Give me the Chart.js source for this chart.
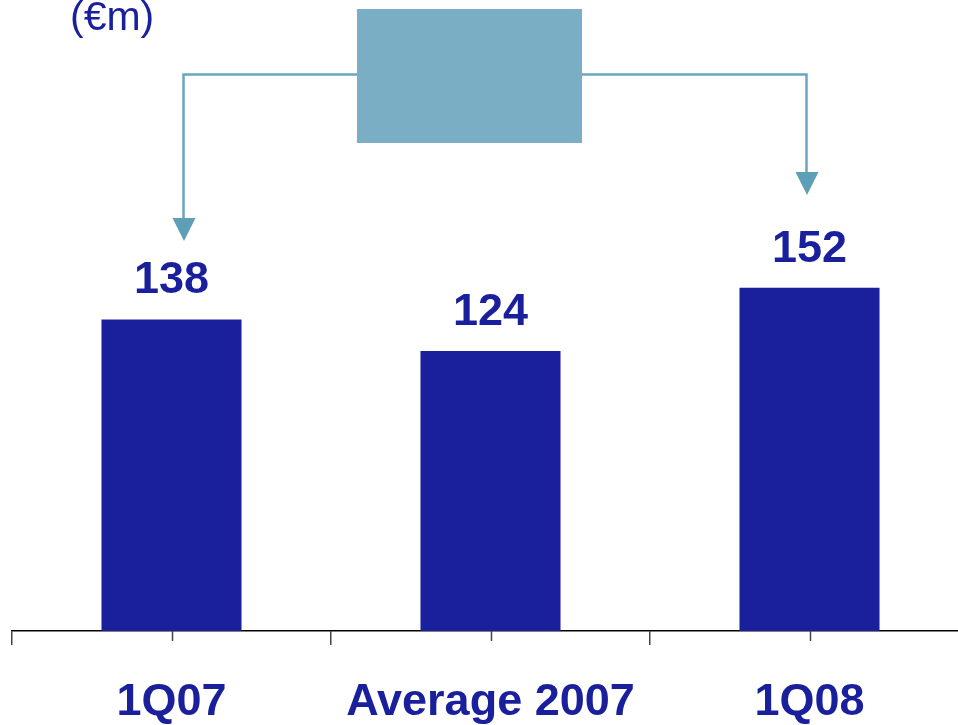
<!DOCTYPE html>
<html>
<head>
<meta charset="utf-8">
<script src="https://cdn.jsdelivr.net/npm/chart.js@4/dist/chart.umd.min.js"></script>
<style>
  html, body { margin: 0; padding: 0; background: #fff; overflow: hidden; }
  #wrap { width: 970px; height: 725px; }
</style>
</head>
<body>
<div id="wrap"><canvas id="chart" width="970" height="725"></canvas></div>
<script>
// data
const categories = ['1Q07', 'Average 2007', '1Q08'];
const values = [138, 124, 152];
const unitLabel = '(€m)';

const navy = '#1a1f9c';
const teal = '#7aaec4';
const tealLine = '#6aa7be';

// value labels above each bar
const valueLabels = {
    id: 'valueLabels',
    afterDatasetsDraw(chart) {
        const ctx = chart.ctx;
        const meta = chart.getDatasetMeta(0);
        ctx.save();
        ctx.fillStyle = navy;
        ctx.font = 'bold 45px "Liberation Sans", Arial, sans-serif';
        ctx.textAlign = 'center';
        ctx.textBaseline = 'alphabetic';
        meta.data.forEach((bar, i) => {
            ctx.fillText(String(values[i]), bar.x, bar.y - 26);
        });
        ctx.restore();
    }
};

// short ticks under each category centre
const centreTicks = {
    id: 'centreTicks',
    afterDraw(chart) {
        const ctx = chart.ctx;
        const xs = chart.scales.x;
        const y0 = chart.chartArea.bottom;
        ctx.save();
        ctx.strokeStyle = '#444';
        ctx.lineWidth = 1.5;
        categories.forEach((c, i) => {
            const x = Math.round(xs.getPixelForTick(i)) + 0.5;
            ctx.beginPath();
            ctx.moveTo(x, y0);
            ctx.lineTo(x, y0 + 10);
            ctx.stroke();
        });
        ctx.restore();
    }
};

// the unit text, the box and the two arrows at the top
const header = {
    id: 'header',
    afterDraw(chart) {
        const ctx = chart.ctx;
        ctx.save();
        ctx.fillStyle = navy;
        ctx.font = '41px "Liberation Sans", Arial, sans-serif';
        ctx.textAlign = 'left';
        ctx.textBaseline = 'alphabetic';
        ctx.fillText(unitLabel, 70, 30);

        ctx.fillStyle = teal;
        ctx.fillRect(357, 9, 225, 134);

        ctx.strokeStyle = tealLine;
        ctx.lineWidth = 2.5;
        ctx.beginPath();
        ctx.moveTo(357, 74.5);
        ctx.lineTo(183.5, 74.5);
        ctx.lineTo(183.5, 220);
        ctx.moveTo(582, 74.5);
        ctx.lineTo(806.5, 74.5);
        ctx.lineTo(806.5, 174);
        ctx.stroke();

        ctx.fillStyle = '#5e9fb7';
        const head = (x, yTop, yTip) => {
            ctx.beginPath();
            ctx.moveTo(x - 11.5, yTop);
            ctx.lineTo(x + 11.5, yTop);
            ctx.lineTo(x, yTip);
            ctx.closePath();
            ctx.fill();
        };
        head(184, 218, 241);
        head(807, 172, 195);
        ctx.restore();
    }
};

new Chart(document.getElementById('chart'), {
    type: 'bar',
    data: {
        labels: categories,
        datasets: [{
            data: values,
            backgroundColor: navy,
            borderWidth: 0,
            barPercentage: 0.878,
            categoryPercentage: 0.5
        }]
    },
    options: {
        responsive: false,
        animation: false,
        layout: { padding: { left: 12, right: 1, top: 0, bottom: 0 } },
        plugins: {
            legend: { display: false },
            tooltip: { enabled: false }
        },
        scales: {
            y: {
                display: false,
                min: 0,
                max: 279.5
            },
            x: {
                afterFit(scale) { scale.height = 94; },
                border: { display: true, color: '#000', width: 1.5 },
                grid: {
                    display: true,
                    offset: true,
                    drawOnChartArea: false,
                    drawTicks: true,
                    tickLength: 14,
                    color: '#444',
                    lineWidth: 1.5
                },
                ticks: {
                    color: navy,
                    padding: 35,
                    maxRotation: 0,
                    autoSkip: false,
                    font: { family: '"Liberation Sans", Arial, sans-serif', size: 45, weight: 'bold', lineHeight: 1.0 }
                }
            }
        }
    },
    plugins: [valueLabels, centreTicks, header]
});
</script>
</body>
</html>
